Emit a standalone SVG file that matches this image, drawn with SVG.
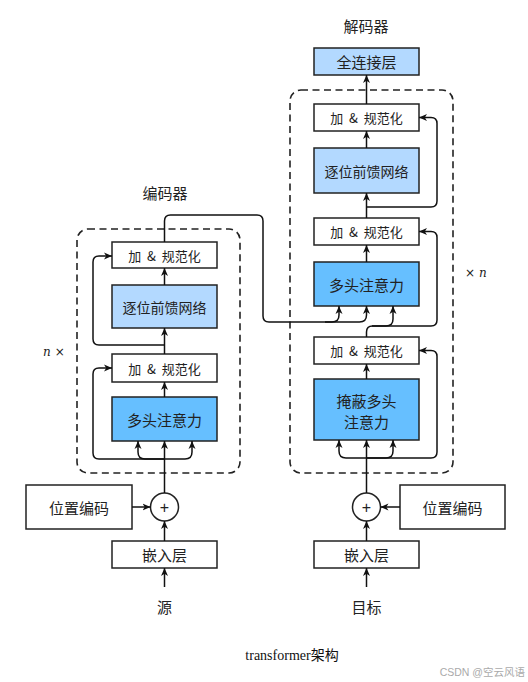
<svg xmlns="http://www.w3.org/2000/svg" width="528" height="682" viewBox="0 0 528 682">
<defs>
<marker id="arr" markerUnits="userSpaceOnUse" markerWidth="10" markerHeight="8" refX="8" refY="4" orient="auto">
<path d="M0,0.5 L8,4 L0,7.5 L2.2,4 Z" fill="#111"/>
</marker>
<style>
.box{stroke:#222;stroke-width:1.5;fill:#fff}
.lb{fill:#b3d9ff}
.db{fill:#66bfff}
.t{font-family:"Noto Sans CJK SC","Noto Sans",sans-serif;fill:#222;text-anchor:middle;dominant-baseline:central}
.s13{font-size:13px;word-spacing:3px}
.s14{font-size:14px}
.s15{font-size:15px}
.pl{font-family:"Liberation Sans",sans-serif;font-size:16px;fill:#222;text-anchor:middle;dominant-baseline:central}
.dash{fill:none;stroke:#222;stroke-width:1.6;stroke-dasharray:7,4.5}
.ln{fill:none;stroke:#111;stroke-width:1.5}
.it{font-family:"DejaVu Serif","Liberation Serif",serif;font-style:italic;font-size:12px;fill:#222;dominant-baseline:central}
.x{font-family:"DejaVu Sans",sans-serif;font-size:12px;fill:#222;dominant-baseline:central}
</style>
</defs>
<rect width="528" height="682" fill="#fff"/>

<!-- titles and labels -->
<text class="t s15" x="165" y="192">编码器</text>
<text class="t s15" x="366" y="25">解码器</text>
<g id="nx-left"><text x="43" y="352"><tspan class="it">n</tspan><tspan class="x" dx="4">×</tspan></text></g>
<g id="nx-right"><text x="465" y="273"><tspan class="x">×</tspan><tspan class="it" dx="4">n</tspan></text></g>

<!-- dashed containers -->
<rect id="enc-block" class="dash" x="77" y="229" width="163" height="244" rx="11"/>
<rect id="dec-block" class="dash" x="290" y="90" width="163" height="383" rx="11"/>

<!-- encoder nodes -->
<g id="enc-addnorm1"><rect class="box" x="112" y="242" width="105" height="26"/><text class="t s13" x="164.5" y="255">加 &amp; 规范化</text></g>
<g id="enc-ffn"><rect class="box lb" x="112" y="285" width="105" height="43"/><text class="t s14" x="164.5" y="306.5">逐位前馈网络</text></g>
<g id="enc-addnorm2"><rect class="box" x="112" y="354" width="105" height="28"/><text class="t s13" x="164.5" y="368">加 &amp; 规范化</text></g>
<g id="enc-mha"><rect class="box db" x="112" y="397" width="105" height="44"/><text class="t s15" x="164.5" y="419">多头注意力</text></g>
<g id="enc-plus"><circle class="box" cx="164.5" cy="507" r="14"/><text class="pl" x="164.5" y="507">+</text></g>
<g id="enc-pos"><rect class="box" x="26" y="485" width="106" height="44"/><text class="t s15" x="79" y="507">位置编码</text></g>
<g id="enc-embed"><rect class="box" x="112" y="541" width="105" height="27"/><text class="t s15" x="164.5" y="554.5">嵌入层</text></g>
<g id="enc-src"><text class="t s15" x="164.5" y="606">源</text></g>

<!-- decoder nodes -->
<g id="dec-fc"><rect class="box lb" x="314" y="48" width="105" height="27"/><text class="t s15" x="366.5" y="61.5">全连接层</text></g>
<g id="dec-addnorm1"><rect class="box" x="314" y="104" width="105" height="27"/><text class="t s13" x="366.5" y="117.5">加 &amp; 规范化</text></g>
<g id="dec-ffn"><rect class="box lb" x="314" y="148" width="105" height="45"/><text class="t s14" x="366.5" y="170.5">逐位前馈网络</text></g>
<g id="dec-addnorm2"><rect class="box" x="314" y="218" width="105" height="27"/><text class="t s13" x="366.5" y="231.5">加 &amp; 规范化</text></g>
<g id="dec-mha"><rect class="box db" x="314" y="262" width="105" height="44"/><text class="t s15" x="366.5" y="284">多头注意力</text></g>
<g id="dec-addnorm3"><rect class="box" x="314" y="337" width="105" height="27"/><text class="t s13" x="366.5" y="350.5">加 &amp; 规范化</text></g>
<g id="dec-mmha"><rect class="box db" x="314" y="379" width="105" height="61"/><text class="t s15" x="366.5" y="400">掩蔽多头</text><text class="t s15" x="366.5" y="421">注意力</text></g>
<g id="dec-plus"><circle class="box" cx="366.5" cy="507" r="14"/><text class="pl" x="366.5" y="507">+</text></g>
<g id="dec-pos"><rect class="box" x="400" y="485" width="105" height="44"/><text class="t s15" x="452.5" y="507">位置编码</text></g>
<g id="dec-embed"><rect class="box" x="314" y="541" width="105" height="27"/><text class="t s15" x="366.5" y="554.5">嵌入层</text></g>
<g id="dec-tgt"><text class="t s15" x="366.5" y="606">目标</text></g>

<!-- connectors -->
<g id="connectors">
<!-- encoder -->
<path class="ln" d="M164.5,587 V568" marker-end="url(#arr)"/>
<path class="ln" d="M164.5,541 V521" marker-end="url(#arr)"/>
<path class="ln" d="M132,507 H150.5" marker-end="url(#arr)"/>
<path class="ln" d="M164.5,493 V441" marker-end="url(#arr)"/>
<path class="ln" d="M164.5,459 H145 Q138,459 138,452 V441" marker-end="url(#arr)"/>
<path class="ln" d="M164.5,459 H185 Q192,459 192,452 V441" marker-end="url(#arr)"/>
<path class="ln" d="M164.5,459 H99 Q93,459 93,453 V374 Q93,368 99,368 H112" marker-end="url(#arr)"/>
<path class="ln" d="M164.5,397 V382" marker-end="url(#arr)"/>
<path class="ln" d="M164.5,354 V328" marker-end="url(#arr)"/>
<path class="ln" d="M164.5,345 H99 Q93,345 93,339 V262 Q93,256 99,256 H112" marker-end="url(#arr)"/>
<path class="ln" d="M164.5,285 V268" marker-end="url(#arr)"/>
<!-- encoder output to decoder -->
<path class="ln" d="M164.5,242 V221 Q164.5,215 170.5,215 H257 Q263,215 263,221 V316 Q263,322 269,322 H359.5 Q366.5,322 366.5,315 V306" marker-end="url(#arr)"/>
<path class="ln" d="M325,322 H332 Q339,322 339,315 V306" marker-end="url(#arr)"/>
<!-- decoder -->
<path class="ln" d="M366.5,587 V568" marker-end="url(#arr)"/>
<path class="ln" d="M366.5,541 V521" marker-end="url(#arr)"/>
<path class="ln" d="M400,507 H380.5" marker-end="url(#arr)"/>
<path class="ln" d="M366.5,493 V440" marker-end="url(#arr)"/>
<path class="ln" d="M366.5,458 H346 Q339,458 339,451 V440" marker-end="url(#arr)"/>
<path class="ln" d="M366.5,458 H386 Q393,458 393,451 V440" marker-end="url(#arr)"/>
<path class="ln" d="M366.5,458 H431 Q437,458 437,452 V356.5 Q437,350.5 431,350.5 H419" marker-end="url(#arr)"/>
<path class="ln" d="M366.5,379 V364" marker-end="url(#arr)"/>
<path class="ln" d="M366.5,337 V332 Q366.5,326 372.5,326 H431 Q437,326 437,320 V237.5 Q437,231.5 431,231.5 H419" marker-end="url(#arr)"/>
<path class="ln" d="M372,326 H386 Q393,326 393,319 V306" marker-end="url(#arr)"/>
<path class="ln" d="M366.5,262 V245" marker-end="url(#arr)"/>
<path class="ln" d="M366.5,218 V193" marker-end="url(#arr)"/>
<path class="ln" d="M366.5,207 H431 Q437,207 437,201 V123.5 Q437,117.5 431,117.5 H419" marker-end="url(#arr)"/>
<path class="ln" d="M366.5,148 V131" marker-end="url(#arr)"/>
<path class="ln" d="M366.5,104 V75" marker-end="url(#arr)"/>
</g>

<text x="292" y="655" style="font-family:'Liberation Serif','Noto Sans CJK SC',serif;font-size:14px;fill:#111;text-anchor:middle;dominant-baseline:central">transformer架构</text>
<text x="525" y="672" style="font-family:'Liberation Sans','Noto Sans CJK SC',sans-serif;font-size:10.5px;fill:#aaa;text-anchor:end;dominant-baseline:central">CSDN @空云风语</text>
</svg>
